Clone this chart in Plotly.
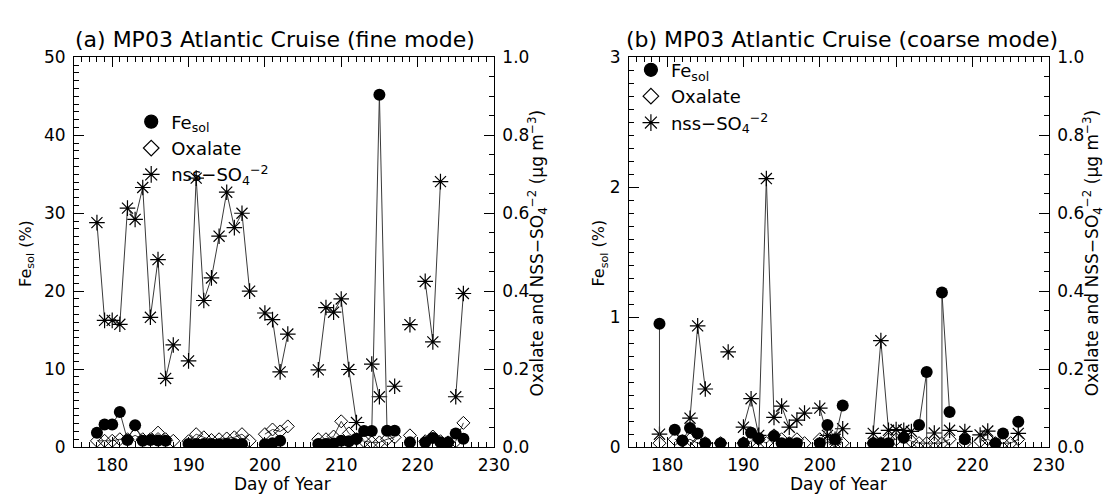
import plotly.graph_objects as go

N = None
days = list(range(178, 227))

# ---- (a) fine mode ----
fe_fine = [1.85, 2.9, 2.9, 4.5, 0.9, 2.8, 0.8, 0.9, 0.85, 0.8, N, N,
           0.4, 0.4, 0.4, 0.4, 0.35, 0.4, 0.4, 0.4, N, N,
           0.35, 0.5, 0.8, N, N, N, N,
           0.4, 0.4, 0.45, 0.8, 0.75, 1.05, 2.05, 2.05, 45.2, 2.1, 2.1, N,
           0.6, N, 0.6, 1.15, 0.6, 0.6, 1.75, 1.05]
ox_fine = [0.016, 0.016, 0.016, 0.02, 0.02, 0.03, 0.02, 0.02, 0.037, 0.02, 0.016, N,
           0.015, 0.033, 0.025, 0.018, 0.02, 0.022, 0.025, 0.033, 0.016, N,
           0.033, 0.045, 0.04, 0.053, N, N, N,
           0.02, 0.02, 0.027, 0.066, 0.035, 0.02, 0.015, 0.012, 0.012, 0.02, 0.025, N,
           0.03, N, 0.015, 0.027, 0.015, 0.012, 0.015, 0.062]
nss_fine = [0.576, 0.325, 0.325, 0.315, 0.613, 0.584, 0.666, 0.333, 0.481, 0.176, 0.262, N,
            0.221, 0.69, 0.376, 0.434, 0.541, 0.654, 0.563, 0.600, 0.400, N,
            0.344, 0.327, 0.193, 0.290, N, N, N,
            0.198, 0.358, 0.346, 0.380, 0.199, 0.063, N, 0.213, 0.129, N, 0.156, N,
            0.314, N, 0.425, 0.270, 0.681, N, 0.129, 0.394]

# ---- (b) coarse mode ----
fe_coarse = [N, 0.95, N, 0.134, 0.05, 0.146, 0.105, 0.03, N, 0.03, N, N,
             0.03, 0.11, 0.068, N, 0.085, 0.03, 0.03, 0.03, N, N,
             0.03, 0.17, 0.06, 0.32, N, N, N,
             0.03, 0.03, 0.03, N, 0.072, N, 0.17, 0.577, N, 1.19, 0.27, N,
             0.06, N, N, N, 0.03, 0.105, N, 0.195]
ox_coarse = [N, 0.01, N, 0.02, 0.015, 0.02, 0.01, 0.01, N, 0.01, N, N,
             0.01, 0.015, 0.02, 0.01, 0.03, 0.02, 0.01, 0.02, 0.01, N,
             0.02, 0.01, 0.015, 0.01, N, N, N,
             0.01, 0.01, 0.02, 0.02, 0.025, 0.015, 0.01, 0.01, 0.01, 0.01, 0.02, N,
             0.01, N, 0.015, 0.02, 0.01, 0.01, 0.01, 0.02]
nss_coarse = [N, 0.033, N, N, N, 0.074, 0.311, 0.149, N, N, 0.244, N,
              0.051, 0.124, 0.03, 0.689, 0.076, 0.105, 0.051, 0.069, 0.087, N,
              0.10, 0.03, 0.02, 0.047, N, N, N,
              0.035, 0.273, 0.043, 0.045, 0.043, 0.04, N, N, 0.036, N, 0.043, N,
              0.04, N, 0.031, 0.041, N, N, N, 0.035]
fe_coarse_drop_days = [179, 214, 216]

titles = ["(a) MP03 Atlantic Cruise (fine mode)", "(b) MP03 Atlantic Cruise (coarse mode)"]
x_title = "Day of Year"
y_left_title = "Fe<sub>sol</sub> (%)"
y_right_title = "Oxalate and NSS\u2212SO<sub>4</sub><sup>\u22122</sup> (\u03bcg m<sup>\u22123</sup>)"
legend_names = ["Fe<sub>sol</sub>", "Oxalate", "nss\u2212SO<sub>4</sub><sup>\u22122</sup>"]

W, H = 1113, 498
FONT = "DejaVu Sans"
LINEC = "#3a3a3a"

def px(xp):
    return xp / W

def py(yp):
    return 1 - yp / H

fig = go.Figure()

panels = [
    dict(fe=fe_fine, ox=ox_fine, nss=nss_fine, xa="x", ya_r="y", ya_l="y2", legend="legend"),
    dict(fe=fe_coarse, ox=ox_coarse, nss=nss_coarse, xa="x2", ya_r="y3", ya_l="y4", legend="legend2"),
]

for i, p in enumerate(panels):
    fig.add_trace(go.Scatter(x=days, y=p["ox"], mode="lines+markers", xaxis=p["xa"], yaxis=p["ya_r"],
                             line=dict(color=LINEC, width=1),
                             marker=dict(symbol="diamond-open", size=10, color="black", line=dict(width=1, color="black")),
                             showlegend=False, connectgaps=False))
    fig.add_trace(go.Scatter(x=days, y=p["nss"], mode="lines+markers", xaxis=p["xa"], yaxis=p["ya_r"],
                             line=dict(color=LINEC, width=1),
                             marker=dict(symbol="asterisk-open", size=13, color="black", line=dict(width=1.2, color="black")),
                             showlegend=False, connectgaps=False))
    if i == 1:
        for d in fe_coarse_drop_days:
            v = p["fe"][days.index(d)]
            fig.add_trace(go.Scatter(x=[d, d], y=[v, 0], mode="lines", xaxis=p["xa"], yaxis=p["ya_l"],
                                     line=dict(color=LINEC, width=1), showlegend=False, hoverinfo="skip"))
    fig.add_trace(go.Scatter(x=days, y=p["fe"], mode="lines+markers", xaxis=p["xa"], yaxis=p["ya_l"],
                             line=dict(color=LINEC, width=1),
                             marker=dict(symbol="circle", size=12, color="black", line=dict(width=0)),
                             showlegend=False, connectgaps=False))
    # legend entries
    syms = [("circle", 13), ("diamond-open", 12), ("asterisk-open", 14)]
    for name, (sym, sz) in zip(legend_names, syms):
        fig.add_trace(go.Scatter(x=[None], y=[None], mode="markers", name=name, xaxis=p["xa"], yaxis=p["ya_l"],
                                 marker=dict(symbol=sym, size=sz, color="black", line=dict(width=1.2, color="black")),
                                 legend=p["legend"], showlegend=True))

dom_a = [px(67), px(493)]
dom_b = [px(630), px(1056)]
dom_y = [py(447), py(41)]

tickfont = dict(family=FONT, size=17, color="black")
common_x = dict(range=[175, 230], tickmode="linear", tick0=180, dtick=10, ticks="inside", ticklen=10,
                tickcolor="black", showline=True, linecolor="black", linewidth=1, mirror="ticks",
                showgrid=False, zeroline=False, tickfont=tickfont, ticklabelstandoff=3,
                minor=dict(dtick=1, ticks="inside", ticklen=5, tickcolor="black", showgrid=False))
common_y = dict(ticks="inside", ticklen=10, tickcolor="black", showline=True, linecolor="black", linewidth=1,
                showgrid=False, zeroline=False, tickfont=tickfont, ticklabelstandoff=4)

legfont = dict(family=FONT, size=18, color="black")
fig.update_layout(
    width=W, height=H,
    margin=dict(l=0, r=0, t=0, b=0),
    paper_bgcolor="white", plot_bgcolor="white",
    font=dict(family=FONT, color="black"),
    xaxis=dict(domain=dom_a, anchor="y", **common_x),
    xaxis2=dict(domain=dom_b, anchor="y3", **common_x),
    yaxis=dict(domain=dom_y, anchor="x", side="right", range=[0, 1], tickmode="linear", tick0=0, dtick=0.2,
               tickformat=".1f", minor=dict(dtick=0.05, ticks="inside", ticklen=5, tickcolor="black"), **common_y),
    yaxis2=dict(overlaying="y", anchor="x", side="left", range=[0, 50], tickmode="linear", tick0=0, dtick=10,
                minor=dict(dtick=1, ticks="inside", ticklen=5, tickcolor="black"), **common_y),
    yaxis3=dict(domain=dom_y, anchor="x2", side="right", range=[0, 1], tickmode="linear", tick0=0, dtick=0.2,
                tickformat=".1f", minor=dict(dtick=0.05, ticks="inside", ticklen=5, tickcolor="black"), **common_y),
    yaxis4=dict(overlaying="y3", anchor="x2", side="left", range=[0, 3], tickmode="linear", tick0=0, dtick=1,
                minor=dict(dtick=0.1, ticks="inside", ticklen=5, tickcolor="black"), **common_y),
    legend=dict(x=px(125), y=py(89), xanchor="left", yanchor="top", bgcolor="rgba(0,0,0,0)",
                font=legfont, tracegroupgap=0, itemwidth=30),
    legend2=dict(x=px(632), y=py(35), xanchor="left", yanchor="top", bgcolor="rgba(0,0,0,0)",
                 font=legfont, tracegroupgap=0, itemwidth=30),
    showlegend=True,
)

ann = []
for t, cx, lx, rx in [(titles[0], 271, 18, 537), (titles[1], 846, 600, 1100)]:
    ann.append(dict(text=t, x=px(cx), y=py(38), xref="paper", yref="paper", showarrow=False,
                    font=dict(family=FONT, size=22, color="black"), xanchor="center", yanchor="bottom"))
for cx, lx, rx in [(279, 18, 537), (843, 600, 1100)]:
    ann.append(dict(text=x_title, x=px(cx), y=py(498), xref="paper", yref="paper", showarrow=False,
                    font=dict(family=FONT, size=17, color="black"), xanchor="center", yanchor="bottom"))
    ann.append(dict(text=y_left_title, x=px(lx), y=py(245), xref="paper", yref="paper", showarrow=False,
                    textangle=-90, font=dict(family=FONT, size=16, color="black"), xanchor="center", yanchor="middle"))
    ann.append(dict(text=y_right_title, x=px(rx), y=py(245), xref="paper", yref="paper", showarrow=False,
                    textangle=-90, font=dict(family=FONT, size=17, color="black"), xanchor="center", yanchor="middle"))
fig.update_layout(annotations=ann)

fig.write_html("out.html")
